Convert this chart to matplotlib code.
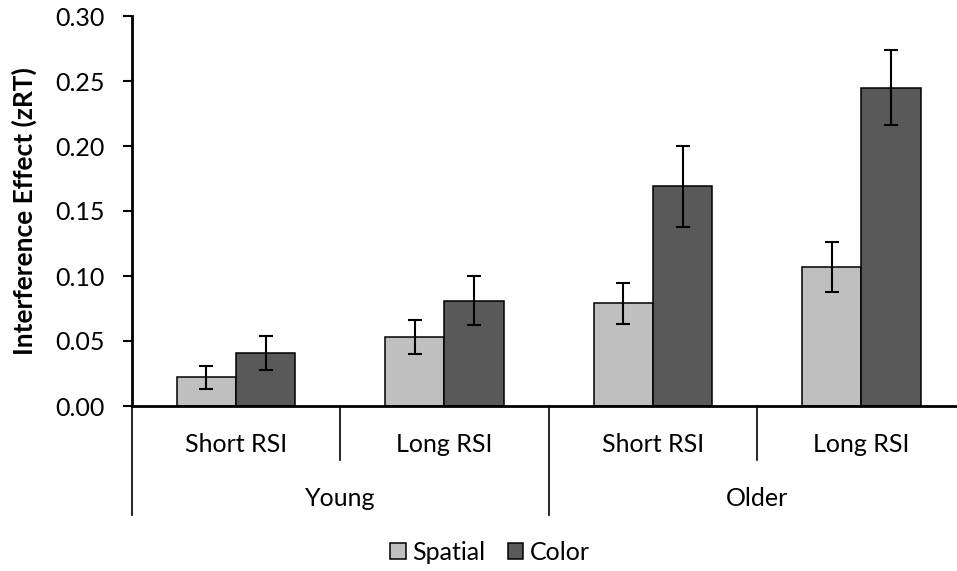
import matplotlib.pyplot as plt
import matplotlib.transforms as mtransforms
import numpy as np

plt.rcParams['font.family'] = ['Lato', 'DejaVu Sans']

# data
conditions = ['Short RSI', 'Long RSI', 'Short RSI', 'Long RSI']
groups = ['Young', 'Older']
spatial = [0.022, 0.053, 0.079, 0.107]
spatial_err = [0.009, 0.013, 0.016, 0.019]
color = [0.041, 0.081, 0.169, 0.245]
color_err = [0.013, 0.019, 0.031, 0.029]

fig = plt.figure(figsize=(9.57, 5.71), dpi=100)
ax = fig.add_axes([131.7 / 957, 1 - 406 / 571, 834 / 957, 390 / 571])

x = np.arange(len(conditions))
w = 0.285
err_kw = dict(ecolor='black', elinewidth=1.5, capsize=4.7, capthick=1.5)
ax.bar(x - w / 2, spatial, w, yerr=spatial_err, color='#bfbfbf',
       edgecolor='black', linewidth=1.1, error_kw=err_kw, label='Spatial')
ax.bar(x + w / 2, color, w, yerr=color_err, color='#595959',
       edgecolor='black', linewidth=1.1, error_kw=err_kw, label='Color')

ax.set_xlim(-0.5, len(conditions) - 0.5)
ax.set_ylim(0, 0.30)
yt = np.arange(0, 0.301, 0.05)
ax.set_yticks(yt)
ax.set_yticklabels([f'{v:.2f}' for v in yt])
ax.tick_params(axis='y', labelsize=18, length=6.5, width=1.5, direction='out', pad=13)
ax.set_xticks([])
for s in ['top', 'right']:
    ax.spines[s].set_visible(False)
ax.spines['left'].set_linewidth(2)
ax.spines['bottom'].set_linewidth(2)
ax.set_ylabel('Interference Effect (zRT)', fontsize=19, fontweight='bold')
ax.yaxis.set_label_coords(-0.1136, 0.5)

# multi-level category axis
trans = mtransforms.blended_transform_factory(ax.transData, ax.transAxes)
for i, lab in enumerate(conditions):
    ax.text(i, -0.1, lab, transform=trans, ha='center', va='center', fontsize=18)
for i, g in enumerate(groups):
    ax.text(2 * i + 0.5, -0.236, g, transform=trans, ha='center', va='center', fontsize=18)
for xs in [0.5, 2.5]:
    ax.plot([xs, xs], [0, -0.1385], transform=trans, color='black', lw=1.2, clip_on=False)
for xs in [-0.5, 1.5, 3.5]:
    ax.plot([xs, xs], [0, -0.2795], transform=trans, color='black', lw=1.2, clip_on=False)

fig.legend(loc='center', bbox_to_anchor=(490 / 957, 1 - 552 / 571), ncol=2, frameon=False,
           fontsize=18, handlelength=0.62, handleheight=0.62, handletextpad=0.25, columnspacing=0.9)

fig.savefig('out.png', dpi=100)
